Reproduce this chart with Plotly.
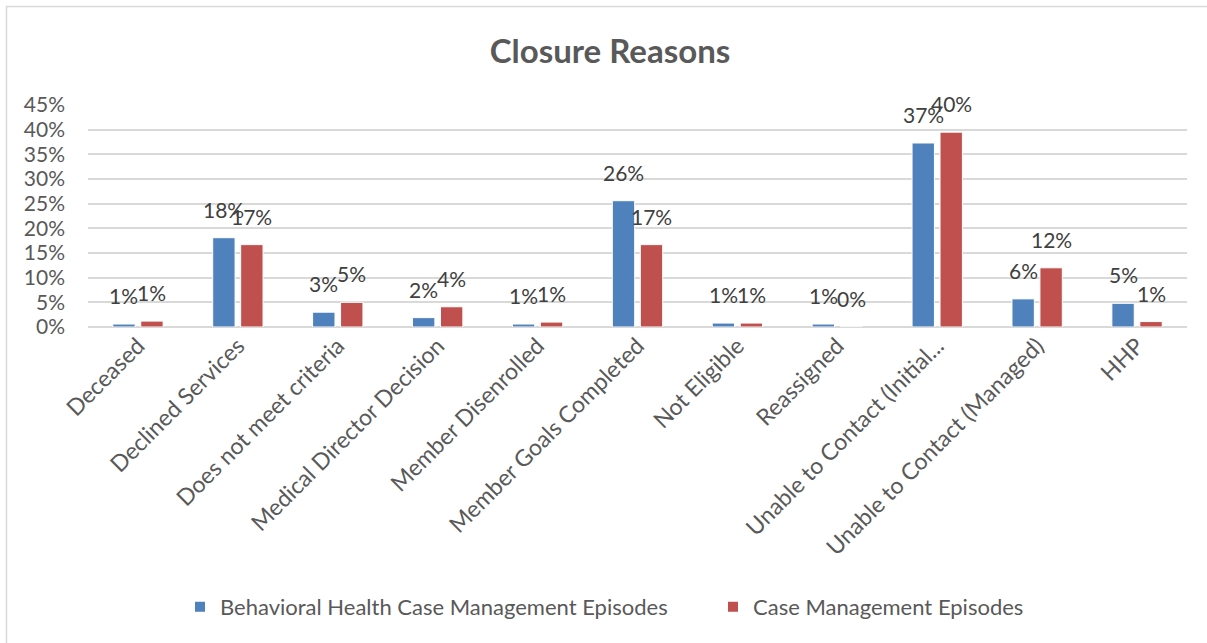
import plotly.graph_objects as go

categories = ["Deceased", "Declined Services", "Does not meet criteria",
              "Medical Director Decision", "Member Disenrolled",
              "Member Goals Completed", "Not Eligible", "Reassigned",
              "Unable to Contact (Initial...", "Unable to Contact (Managed)", "HHP"]
bh_values = [0.006, 0.181, 0.030, 0.019, 0.006, 0.256, 0.008, 0.006, 0.373, 0.057, 0.048]
cm_values = [0.012, 0.167, 0.050, 0.041, 0.010, 0.167, 0.008, 0.000, 0.395, 0.120, 0.011]
series_names = ["Behavioral Health Case Management Episodes", "Case Management Episodes"]
y_ticks = [0, 0.05, 0.10, 0.15, 0.20, 0.25, 0.30, 0.35, 0.40, 0.45]

FONT = "Lato"
W, H = 1207, 643
L, R, T, B = 88, 20, 105, 316
pw, ph = W - L - R, H - T - B
colors = ["#4F81BD", "#C0504D"]

fig = go.Figure()
for name, vals, color, lg in [(series_names[0], bh_values, colors[0], "legend"),
                              (series_names[1], cm_values, colors[1], "legend2")]:
    fig.add_trace(go.Bar(
        x=categories, y=vals, name=name, legend=lg,
        marker=dict(color=color, line=dict(color="white", width=1)),
        cliponaxis=False,
    ))

# data labels placed through the axes' scales
for shift, vals in [(-14, bh_values), (14, cm_values)]:
    for c, v in zip(categories, vals):
        fig.add_annotation(x=c, y=v, xref="x", yref="y", text=f"{v:.0%}",
                           showarrow=False, xanchor="center", yanchor="bottom",
                           xshift=shift, yshift=14,
                           font=dict(family=FONT, size=21, color="#404040"))

def px_to_paper_x(px):
    return (px - L) / pw

def py_to_paper_y(py):
    return (H - B - py) / ph

fig.add_shape(type="rect", xref="paper", yref="paper",
              x0=px_to_paper_x(6.5), x1=px_to_paper_x(1215),
              y0=py_to_paper_y(650), y1=py_to_paper_y(6.5),
              line=dict(color="#D9D9D9", width=1.5), fillcolor="rgba(0,0,0,0)",
              layer="below")

legend_common = dict(orientation="h", xanchor="left", yanchor="middle",
                     y=py_to_paper_y(607),
                     font=dict(family=FONT, size=22, color="#595959"),
                     itemsizing="constant", itemwidth=30,
                     bgcolor="rgba(0,0,0,0)")

fig.update_layout(
    width=W, height=H,
    margin=dict(l=L, r=R, t=T, b=B, pad=0, autoexpand=False),
    paper_bgcolor="white", plot_bgcolor="white",
    barmode="group", bargap=0.44, bargroupgap=0.2,
    title=dict(text="<b>Closure Reasons</b>", x=px_to_paper_x(610), xref="paper",
               xanchor="center", y=1 - 51 / H, yanchor="middle",
               font=dict(family=FONT, size=33, color="#595959")),
    font=dict(family=FONT, color="#595959"),
    yaxis=dict(range=[0, 0.45], tickvals=y_ticks, tickformat=".0%",
               showgrid=True, gridcolor="#D9D9D9", gridwidth=1.5,
               zeroline=True, zerolinecolor="#D9D9D9", zerolinewidth=1.5,
               tickfont=dict(family=FONT, size=21, color="#595959"),
               ticks="", ticklen=0, showline=False, ticklabelstandoff=22),
    xaxis=dict(tickangle=-45, tickfont=dict(family=FONT, size=23, color="#595959"),
               showline=False, ticks=""),
    legend=dict(x=px_to_paper_x(180), **legend_common),
    legend2=dict(x=px_to_paper_x(713), **legend_common),
    showlegend=True,
)

fig.write_html("out.html")
